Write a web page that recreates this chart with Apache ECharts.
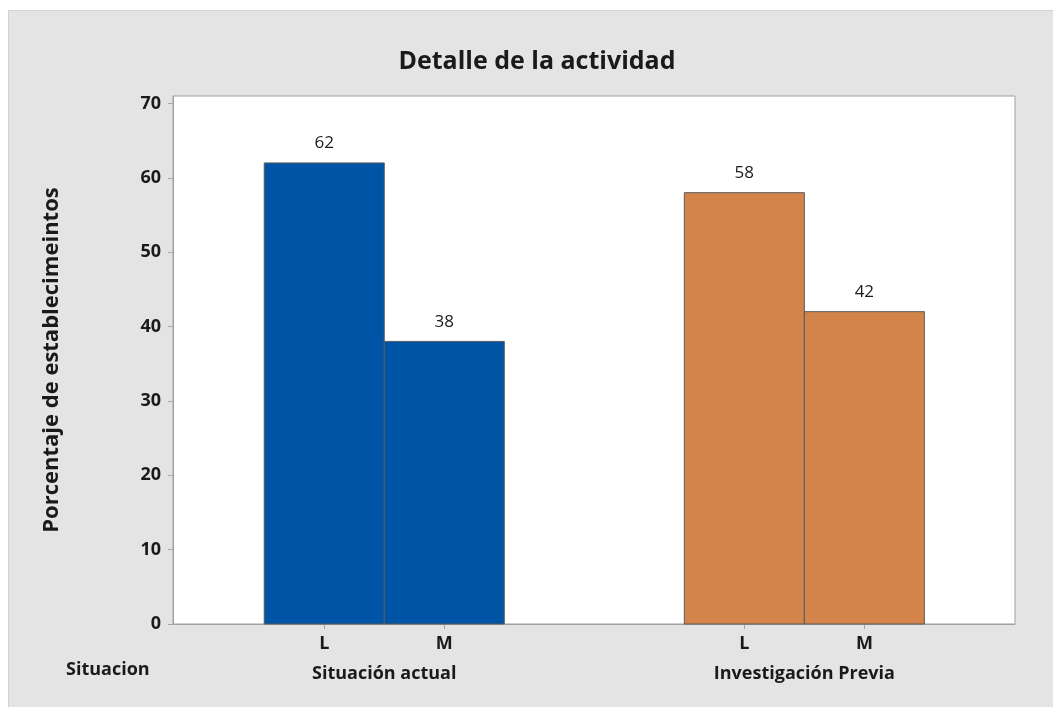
<!DOCTYPE html>
<html>
<head>
<meta charset="utf-8">
<script src="https://cdn.jsdelivr.net/npm/echarts@6/dist/echarts.min.js"></script>
<style>
  html, body { margin: 0; padding: 0; background: #ffffff; }
  #chart { width: 1053px; height: 707px; }
</style>
</head>
<body>
<div id="chart"></div>
<script>
// ---- data ----
const title = 'Detalle de la actividad';
const yAxisTitle = 'Porcentaje de establecimeintos';
const groupAxisTitle = 'Situacion';
const groups = ['Situación actual', 'Investigación Previa'];
const levels = ['L', 'M'];
const situacionActual = [62, 38];
const investigacionPrevia = [58, 42];
const yTicks = [0, 10, 20, 30, 40, 50, 60, 70];

const groupColors = ['#0054a6', '#d2844a'];
const groupValues = [situacionActual, investigacionPrevia];

// position of each bar on the x value axis (group gap of 2.5 bar widths)
const groupStep = 3.5;
function barPos(g, l) { return 1 + g * groupStep + l; }

const barData = [];
const tickPos = [];
const tickLabelMap = {};
const groupPos = [];
const groupLabelMap = {};
groupValues.forEach((vals, g) => {
  vals.forEach((v, l) => {
    const x = barPos(g, l);
    barData.push({ value: [x, v, g], itemStyle: { color: groupColors[g] } });
    tickPos.push(x);
    tickLabelMap[x] = levels[l];
  });
  const c = (barPos(g, 0) + barPos(g, levels.length - 1)) / 2;
  groupPos.push(c);
  groupLabelMap[c] = groups[g];
});

const FONT = '"Open Sans", "Noto Sans", sans-serif';
const TXT = '#1a1a1a';
const chart = echarts.init(document.getElementById('chart'), null, { renderer: 'canvas' });

const xMin = -0.26, xMax = 6.755;

chart.setOption({
  backgroundColor: '#ffffff',
  animation: false,
  graphic: [
    { type: 'rect', z: -10, silent: true,
      shape: { x: 8.5, y: 10.5, width: 1050, height: 700 },
      style: { fill: '#e4e4e4', stroke: '#d2d2d2', lineWidth: 1 } },
    { type: 'text', left: 66, top: 661,
      style: { text: groupAxisTitle, font: 'bold 18px ' + FONT, fill: TXT } }
  ],
  title: {
    text: title, left: 532, textAlign: 'center', top: 44,
    textStyle: { fontFamily: FONT, fontSize: 25, fontWeight: 'bold', color: TXT }
  },
  grid: {
    left: 173, right: 38, top: 96, bottom: 83,
    show: true, backgroundColor: '#ffffff', borderColor: '#a0a0a0', borderWidth: 1
  },
  xAxis: [
    {
      type: 'value', min: xMin, max: xMax,
      splitLine: { show: false },
      axisLine: { show: true, onZero: false, lineStyle: { color: '#a0a0a0' } },
      axisTick: { show: true, length: 5, customValues: tickPos, lineStyle: { color: '#a8a8a8' } },
      axisLabel: {
        customValues: tickPos, margin: 11,
        formatter: v => tickLabelMap[v] || '',
        fontFamily: FONT, fontSize: 18, fontWeight: 'bold', color: TXT
      }
    },
    {
      type: 'value', min: xMin, max: xMax, position: 'bottom', offset: 33,
      splitLine: { show: false },
      axisLine: { show: false, onZero: false },
      axisTick: { show: false },
      axisLabel: {
        customValues: groupPos, margin: 8,
        formatter: v => groupLabelMap[v] || '',
        fontFamily: FONT, fontSize: 18, fontWeight: 'bold', color: TXT
      }
    }
  ],
  yAxis: {
    type: 'value', min: 0, max: 71,
    name: yAxisTitle, nameLocation: 'middle', nameGap: 110, nameRotate: 90,
    nameTextStyle: { fontFamily: FONT, fontSize: 22, fontWeight: 'bold', color: TXT },
    splitLine: { show: false },
    axisLine: { show: true, onZero: false, lineStyle: { color: '#a0a0a0' } },
    axisTick: { show: true, length: 5, customValues: yTicks, lineStyle: { color: '#a8a8a8' } },
    axisLabel: {
      customValues: yTicks, margin: 12,
      fontFamily: FONT, fontSize: 18, fontWeight: 'bold', color: TXT
    }
  },
  series: [{
    type: 'custom',
    xAxisIndex: 0, yAxisIndex: 0,
    encode: { x: 0, y: 1 },
    data: barData,
    renderItem: function (params, api) {
      const x = api.value(0), y = api.value(1), g = api.value(2);
      const p0 = api.coord([x - 0.5, y]);
      const p1 = api.coord([x + 0.5, 0]);
      return {
        type: 'group',
        children: [
          { type: 'rect',
            shape: { x: p0[0], y: p0[1], width: p1[0] - p0[0], height: p1[1] - p0[1] },
            style: { fill: groupColors[g], stroke: '#5a5a5a', lineWidth: 1 } },
          { type: 'text',
            style: { x: (p0[0] + p1[0]) / 2, y: p0[1] - 11, text: String(y),
              align: 'center', verticalAlign: 'bottom',
              font: '17px ' + FONT, fill: TXT } }
        ]
      };
    }
  }]
});
</script>
</body>
</html>
